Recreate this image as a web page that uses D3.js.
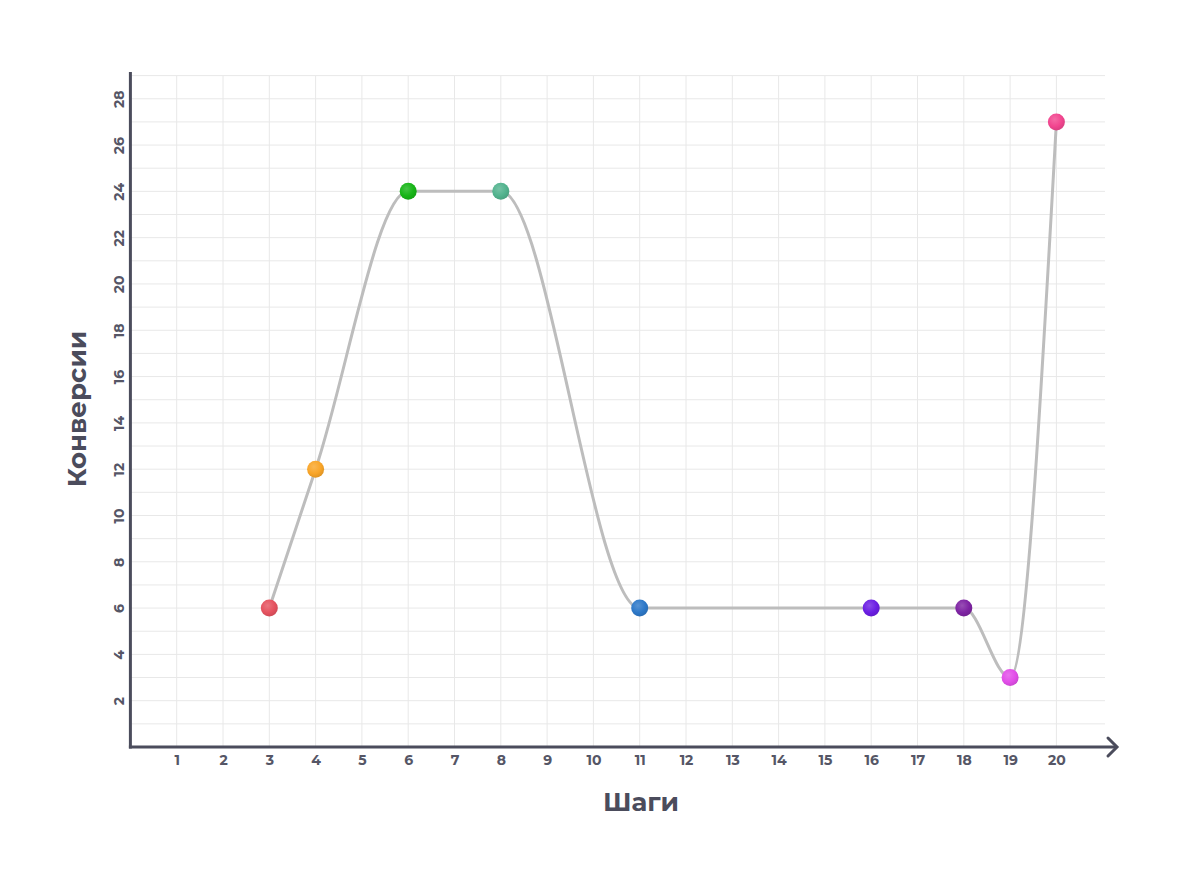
<!DOCTYPE html>
<html><head><meta charset="utf-8">
<script src="https://cdn.jsdelivr.net/npm/d3@7"></script>
<style>body{margin:0;background:#fff}svg{display:block}text{font-family:Montserrat,"Open Sans",Inter,sans-serif}</style>
</head><body>
<svg id="c" width="1184" height="882"></svg>
<script>
const steps = [3, 4, 6, 8, 11, 16, 18, 19, 20];
const conversions = [6, 12, 24, 24, 6, 6, 6, 3, 27];
const pointColors = ["#e5525f", "#f9a528", "#17b517", "#52b38e", "#2d78c8", "#6b1ee3", "#7e23a3", "#e24ee9", "#f2458f"];
const xTicks = d3.range(1, 21);
const yTicks = d3.range(2, 29, 2);
const xTitle = "Шаги";
const yTitle = "Конверсии";

const svg = d3.select("#c");
const x = d3.scaleLinear().domain([0, 21]).range([130.4, 1102.7]);
const y = d3.scaleLinear().domain([0, 29]).range([747, 75.6]);
const axisColor = "#4b4c5c";

const defs = svg.append("defs");
pointColors.forEach((c, i) => {
  const g = defs.append("radialGradient").attr("id", "g" + i)
    .attr("cx", "40%").attr("cy", "35%").attr("r", "70%");
  g.append("stop").attr("offset", "0%").attr("stop-color", d3.interpolateRgb(c, "#fff")(0.2));
  g.append("stop").attr("offset", "60%").attr("stop-color", c);
  g.append("stop").attr("offset", "100%").attr("stop-color", d3.interpolateRgb(c, "#000")(0.12));
});

// grid
const grid = svg.append("g").attr("stroke", "#e8e8e8").attr("stroke-width", 1);
grid.selectAll("line.v").data(xTicks).join("line")
  .attr("x1", d => x(d)).attr("x2", d => x(d)).attr("y1", y(29)).attr("y2", y(0));
grid.selectAll("line.h").data(d3.range(1, 30)).join("line")
  .attr("x1", x(0)).attr("x2", x(21.05)).attr("y1", d => y(d)).attr("y2", d => y(d));

// axes
const xAxis = d3.axisBottom(x).tickValues(xTicks).tickSize(0).tickPadding(8.5).tickFormat(d3.format("d"));
const gx = svg.append("g").attr("transform", `translate(0,${y(0)})`).call(xAxis);
gx.select(".domain").remove();
gx.selectAll("text").attr("fill", "#555666").attr("font-size", 14).attr("font-weight", 700);

const yAxis = d3.axisLeft(y).tickValues(yTicks).tickSize(0).tickPadding(0).tickFormat(d3.format("d"));
const gy = svg.append("g").attr("transform", `translate(${x(0)},0)`).call(yAxis);
gy.select(".domain").remove();
gy.selectAll("text").attr("fill", "#555666").attr("font-size", 14).attr("font-weight", 700)
  .attr("text-anchor", "middle").attr("dy", null).attr("dominant-baseline", "middle")
  .attr("x", null)
  .attr("transform", "translate(-10.5,0) rotate(-90)");

svg.append("line").attr("x1", x(0)).attr("x2", x(0)).attr("y1", 72).attr("y2", y(0) + 1.5)
  .attr("stroke", axisColor).attr("stroke-width", 3);
svg.append("line").attr("x1", x(0) - 1.5).attr("x2", 1117).attr("y1", y(0)).attr("y2", y(0))
  .attr("stroke", axisColor).attr("stroke-width", 3);
svg.append("path").attr("d", `M1108,${y(0) - 9} L1117,${y(0)} L1108,${y(0) + 9}`)
  .attr("fill", "none").attr("stroke", axisColor).attr("stroke-width", 3).attr("stroke-linecap", "round");

// line
const data = steps.map((s, i) => ({ s, v: conversions[i], c: i }));
svg.append("path").datum(data)
  .attr("d", d3.line().x(d => x(d.s)).y(d => y(d.v)).curve(d3.curveMonotoneX))
  .attr("fill", "none").attr("stroke", "#bdbdbd").attr("stroke-width", 3);

svg.selectAll("circle.p").data(data).join("circle")
  .attr("cx", d => x(d.s)).attr("cy", d => y(d.v)).attr("r", 8.5)
  .attr("fill", d => `url(#g${d.c})`);

// titles
svg.append("text").attr("x", 641).attr("y", 811).attr("text-anchor", "middle")
  .attr("font-size", 26).attr("font-weight", 700).attr("fill", axisColor).text(xTitle);
svg.append("text").attr("transform", "translate(79,409) rotate(-90)").attr("text-anchor", "middle")
  .attr("dominant-baseline", "middle")
  .attr("font-size", 26).attr("font-weight", 700).attr("fill", axisColor).text(yTitle);
</script>
</body></html>
